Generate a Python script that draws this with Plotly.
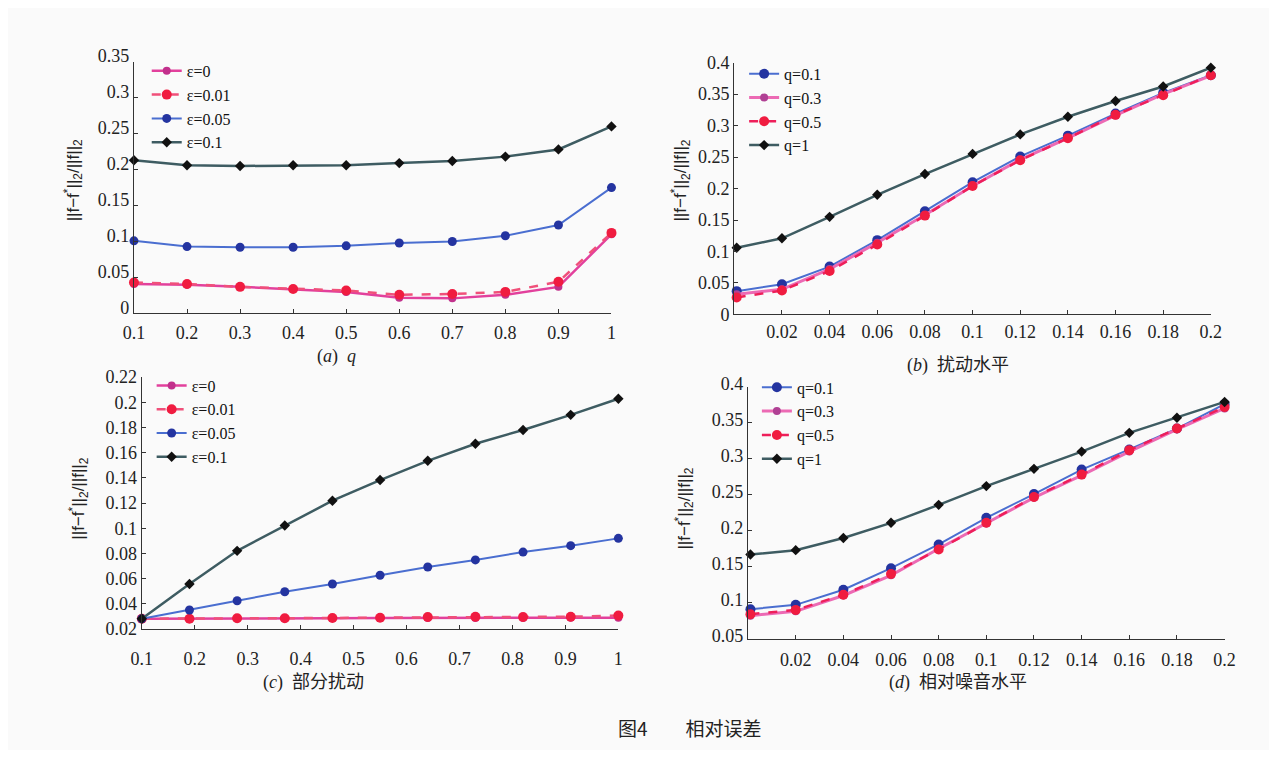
import plotly.graph_objects as go

# screenshot frame: the figure sits at (8, 8) inside the 1277x758 window
W, H = 1261, 742
OX, OY = 8, 8

# ---------------- data ----------------
q_a = [0.1, 0.2, 0.3, 0.4, 0.5, 0.6, 0.7, 0.8, 0.9, 1.0]
a_eps0 = [0.041, 0.040, 0.037, 0.034, 0.030, 0.022, 0.021, 0.026, 0.037, 0.110]
a_eps001 = [0.043, 0.041, 0.037, 0.034, 0.032, 0.026, 0.027, 0.030, 0.044, 0.112]
a_eps005 = [0.101, 0.093, 0.092, 0.092, 0.094, 0.098, 0.100, 0.108, 0.123, 0.175]
a_eps01 = [0.213, 0.206, 0.205, 0.206, 0.206, 0.209, 0.212, 0.218, 0.228, 0.260]

lvl_b = [0.001, 0.02, 0.04, 0.06, 0.08, 0.10, 0.12, 0.14, 0.16, 0.18, 0.20]
b_q01 = [0.037, 0.048, 0.076, 0.118, 0.164, 0.210, 0.251, 0.284, 0.319, 0.352, 0.380]
b_q03 = [0.032, 0.040, 0.072, 0.114, 0.158, 0.204, 0.246, 0.280, 0.316, 0.350, 0.379]
b_q05 = [0.027, 0.038, 0.069, 0.111, 0.157, 0.204, 0.245, 0.280, 0.317, 0.348, 0.380]
b_q1 = [0.106, 0.121, 0.155, 0.190, 0.223, 0.255, 0.286, 0.314, 0.339, 0.362, 0.392]

frac_c = [0.1, 0.19, 0.28, 0.37, 0.46, 0.55, 0.64, 0.73, 0.82, 0.91, 1.0]
c_eps0 = [0.0282, 0.0282, 0.0284, 0.0284, 0.0286, 0.0288, 0.0288, 0.0288, 0.0288, 0.0290, 0.0290]
c_eps001 = [0.0282, 0.0282, 0.0286, 0.0286, 0.0288, 0.0290, 0.0295, 0.0298, 0.0295, 0.0298, 0.0307]
c_eps005 = [0.0282, 0.0351, 0.0425, 0.0496, 0.0558, 0.0627, 0.0693, 0.0749, 0.0811, 0.0862, 0.0920]
c_eps01 = [0.0282, 0.0558, 0.0821, 0.1022, 0.1219, 0.1383, 0.1536, 0.1671, 0.1781, 0.1901, 0.2029]

lvl_d = [0.001, 0.02, 0.04, 0.06, 0.08, 0.10, 0.12, 0.14, 0.16, 0.18, 0.20]
d_q01 = [0.091, 0.097, 0.118, 0.148, 0.181, 0.218, 0.251, 0.285, 0.313, 0.342, 0.376]
d_q03 = [0.082, 0.088, 0.110, 0.138, 0.175, 0.210, 0.246, 0.277, 0.310, 0.341, 0.370]
d_q05 = [0.084, 0.090, 0.111, 0.140, 0.174, 0.211, 0.247, 0.278, 0.312, 0.342, 0.372]
d_q1 = [0.167, 0.173, 0.190, 0.211, 0.236, 0.262, 0.286, 0.310, 0.336, 0.357, 0.379]

eps_names = ["ε=0", "ε=0.01", "ε=0.05", "ε=0.1"]
q_names = ["q=0.1", "q=0.3", "q=0.5", "q=1"]

xt_a = [0.1, 0.2, 0.3, 0.4, 0.5, 0.6, 0.7, 0.8, 0.9, 1.0]
xt_a_txt = ["0.1", "0.2", "0.3", "0.4", "0.5", "0.6", "0.7", "0.8", "0.9", "1"]
yt_a = [0, 0.05, 0.1, 0.15, 0.2, 0.25, 0.3, 0.35]
yt_a_txt = ["0", "0.05", "0.1", "0.15", "0.2", "0.25", "0.3", "0.35"]
xt_b = [0.02, 0.04, 0.06, 0.08, 0.1, 0.12, 0.14, 0.16, 0.18, 0.2]
xt_b_txt = ["0.02", "0.04", "0.06", "0.08", "0.1", "0.12", "0.14", "0.16", "0.18", "0.2"]
yt_b = [0, 0.05, 0.1, 0.15, 0.2, 0.25, 0.3, 0.35, 0.4]
yt_b_txt = ["0", "0.05", "0.1", "0.15", "0.2", "0.25", "0.3", "0.35", "0.4"]
yt_c = [0.02, 0.04, 0.06, 0.08, 0.1, 0.12, 0.14, 0.16, 0.18, 0.2, 0.22]
yt_c_txt = ["0.02", "0.04", "0.06", "0.08", "0.1", "0.12", "0.14", "0.16", "0.18", "0.2", "0.22"]
yt_d = [0.05, 0.1, 0.15, 0.2, 0.25, 0.3, 0.35, 0.4]
yt_d_txt = ["0.05", "0.1", "0.15", "0.2", "0.25", "0.3", "0.35", "0.4"]

# ---------------- styles ----------------
STY = [
    dict(line=dict(color="#e2409c", width=2.5), marker=dict(color="#c2308c", size=8, symbol="circle")),
    dict(line=dict(color="#f0507a", width=2.5, dash="dash"), marker=dict(color="#f01c40", size=10, symbol="circle")),
    dict(line=dict(color="#4a6ed0", width=2), marker=dict(color="#2434a0", size=9, symbol="circle")),
    dict(line=dict(color="#3e5c62", width=2.5), marker=dict(color="#111111", size=8, symbol="diamond")),
]
STY_Q = [
    dict(line=dict(color="#4a6ed0", width=2), marker=dict(color="#2434a0", size=10, symbol="circle")),
    dict(line=dict(color="#ec6ab4", width=3), marker=dict(color="#b04094", size=8, symbol="circle")),
    dict(line=dict(color="#ee1f5a", width=2.5, dash="dash"), marker=dict(color="#f01c40", size=10, symbol="circle")),
    dict(line=dict(color="#3e5c62", width=2.5), marker=dict(color="#111111", size=8, symbol="diamond")),
]

fig = go.Figure()


def add(x, ys, names, styles, xa, ya, leg):
    for y, n, s in zip(ys, names, styles):
        fig.add_trace(go.Scatter(x=x, y=y, name=n, mode="lines+markers",
                                 line=s["line"], marker=s["marker"],
                                 xaxis=xa, yaxis=ya, legend=leg, cliponaxis=False))


add(q_a, [a_eps0, a_eps001, a_eps005, a_eps01], eps_names, STY, "x", "y", "legend")
add(lvl_b, [b_q01, b_q03, b_q05, b_q1], q_names, STY_Q, "x2", "y2", "legend2")
add(frac_c, [c_eps0, c_eps001, c_eps005, c_eps01], eps_names, STY, "x3", "y3", "legend3")
add(lvl_d, [d_q01, d_q03, d_q05, d_q1], q_names, STY_Q, "x4", "y4", "legend4")


def px_x(v):
    return (v - OX) / W


def px_y(v):
    return 1 - (v - OY) / H


SERIF = "Liberation Serif, Times New Roman, serif"
tickfont = dict(family=SERIF, size=18, color="#222222")
axcommon = dict(showline=True, linecolor="#333333", linewidth=1.2, ticks="inside",
                ticklen=4, tickcolor="#333333", showgrid=False, zeroline=False,
                tickfont=tickfont, mirror=False)

panels = {
    "": dict(xd=(125, 611), yd=(47, 308), xr=[0.1, 1.0], yr=[0, 0.35],
             xt=(xt_a, xt_a_txt), yt=(yt_a, yt_a_txt), yshift=-6, xoff=3),
    "2": dict(xd=(736, 1221), yd=(48, 309), xr=[0, 0.2], yr=[0, 0.4],
              xt=(xt_b, xt_b_txt), yt=(yt_b, yt_b_txt), yshift=0, xoff=1),
    "3": dict(xd=(133, 618), yd=(374, 635), xr=[0.1, 1.0], yr=[0.02, 0.22],
              xt=(xt_a, xt_a_txt), yt=(yt_c, yt_c_txt), yshift=0, xoff=13),
    "4": dict(xd=(750, 1235), yd=(384, 645), xr=[0, 0.2], yr=[0.05, 0.4],
              xt=(xt_b, xt_b_txt), yt=(yt_d, yt_d_txt), yshift=-3, xoff=5),
}

lay = {}
for k, p in panels.items():
    lay["xaxis" + k] = dict(axcommon, domain=[px_x(p["xd"][0]), px_x(p["xd"][1])],
                            range=p["xr"], anchor="y" + k, ticklabelstandoff=p["xoff"],
                            tickvals=p["xt"][0], ticktext=p["xt"][1])
    lay["yaxis" + k] = dict(axcommon, domain=[px_y(p["yd"][1]), px_y(p["yd"][0])],
                            range=p["yr"], anchor="x" + k, ticklabelshift=p["yshift"],
                            tickvals=p["yt"][0], ticktext=p["yt"][1])

legpos = {"legend": (138, 39), "legend2": (746, 42),
          "legend3": (143, 365), "legend4": (759, 367)}
for k, (lx, ly) in legpos.items():
    lay[k] = dict(x=px_x(lx), y=px_y(ly), xanchor="left", yanchor="top",
                  bgcolor="rgba(0,0,0,0)", borderwidth=0, itemwidth=30,
                  tracegroupgap=0,
                  font=dict(family=SERIF, size=16, color="#111111"))

ytitle = "||f−f<sup>*</sup>||<sub>2</sub>/||f||<sub>2</sub>"
ann = []
for (tx, ty) in [(63, 170), (681, 170), (69, 500), (685, 510)]:
    ann.append(dict(x=px_x(tx), y=px_y(ty), xref="paper", yref="paper", text=ytitle,
                    textangle=-90, showarrow=False, xanchor="center", yanchor="middle",
                    font=dict(family="Liberation Sans, Arial, sans-serif", size=17, color="#222222")))

caps = [("(<i>a</i>)  <i>q</i>", 331, 353),
        ("(<i>b</i>)  扰动水平", 964, 362),
        ("(<i>c</i>)  部分扰动", 308, 690),
        ("(<i>d</i>)  相对噪音水平", 964, 690)]
for t, cx, cy in caps:
    ann.append(dict(x=px_x(cx), y=px_y(cy), xref="paper", yref="paper", text=t,
                    showarrow=False, xanchor="center", yanchor="middle",
                    font=dict(family="Liberation Serif, Noto Sans CJK SC", size=18, color="#222222")))
ann.append(dict(x=px_x(691), y=px_y(737), xref="paper", yref="paper",
                text="图4　　相对误差", showarrow=False, xanchor="center", yanchor="middle",
                font=dict(family="Noto Sans CJK SC", size=19, color="#222222")))

fig.update_layout(width=W, height=H, margin=dict(l=0, r=0, t=0, b=0),
                  paper_bgcolor="#fafafa", plot_bgcolor="rgba(0,0,0,0)",
                  annotations=ann, showlegend=True, **lay)

fig.write_html("out.html")
